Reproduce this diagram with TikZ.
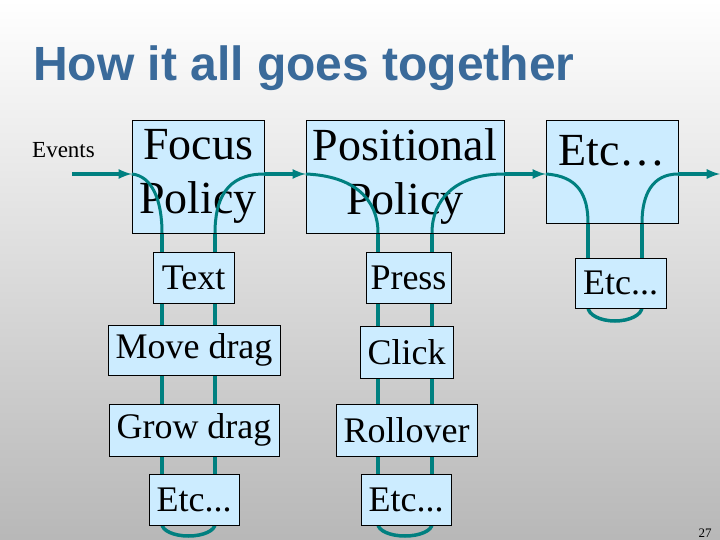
\documentclass[tikz,border=0pt]{standalone}
\usepackage{fontspec}
\setmainfont{Liberation Serif}
\newfontfamily\titlefont{Liberation Sans}
\usetikzlibrary{calc}
\definecolor{wireteal}{RGB}{0,128,128}
\definecolor{boxfill}{RGB}{204,236,255}
\definecolor{titleblue}{RGB}{58,106,154}
\tikzset{
	policy/.style={draw, rectangle, fill=boxfill, inner sep=0pt, align=center, font=\fontsize{46}{54}\selectfont},
	handler/.style={draw, rectangle, fill=boxfill, inner sep=0pt, font=\fontsize{36}{42}\selectfont},
	wire/.style={draw=wireteal, line width=3.5pt},
	flow/.style={draw=wireteal, line width=3.5pt, -latex},
}
\begin{document}
\begin{tikzpicture}[x=1pt, y=-1pt]
	\shade[left color=white, right color=black!28, shading angle=0] (0,0) rectangle (720,540);
	\useasboundingbox (0,0) rectangle (720,540);
	\node[anchor=base west, inner sep=0pt, text=titleblue, font=\titlefont\bfseries\fontsize{48}{56}\selectfont] (title) at (33,81) {How it all goes together};
	\node[anchor=base west, inner sep=0pt, font=\fontsize{23}{26}\selectfont] (events) at (32,158) {Events};
	
	% vertical wires, behind the boxes
	\foreach \x/\ya/\yb in {162/233/525, 215/233/525, 378/233/525, 432/233/525, 588/223/308, 642/223/308}
		\draw[wire] (\x,\ya) -- (\x,\yb);
	\draw[wire] (162,524) arc[start angle=180, end angle=0, x radius=26.5, y radius=12];
	\draw[wire] (378,524) arc[start angle=180, end angle=0, x radius=27, y radius=12];
	\draw[wire] (588,307) arc[start angle=180, end angle=0, x radius=27, y radius=14];
	
	% policies
	\node (focus) [policy, minimum width=132, minimum height=113] at (198,176.5) {Focus\\Policy};
	\node (posit) [policy, minimum width=198, minimum height=113] at (405,176.5) {Positional\\Policy};
	\node (etc) [policy, minimum width=132, minimum height=103] at (612,171.5) {};
	\node[font=\fontsize{46}{54}\selectfont, anchor=base] (etctext) at (612,166) {Etc\ldots};
	
	% handlers
	\node (text) [handler, minimum width=81, minimum height=51] at (193.5,277.5) {Text};
	\node (move) [handler, minimum width=172, minimum height=50] at (194,350) {Move drag};
	\node (grow) [handler, minimum width=170, minimum height=52] at (194,430) {Grow drag};
	\node (etca) [handler, minimum width=90, minimum height=51] at (194,499.5) {Etc...};
	\node (press) [handler, minimum width=85, minimum height=51] at (408.5,277.5) {Press};
	\node (click) [handler, minimum width=93, minimum height=52] at (406.5,352) {Click};
	\node (roll) [handler, minimum width=141, minimum height=52] at (406.5,430) {Rollover};
	\node (etcb) [handler, minimum width=90, minimum height=51] at (406,499.5) {Etc...};
	\node (etcc) [handler, minimum width=91, minimum height=50] at (620.5,283) {Etc...};
	
	\coordinate (in) at (72,174);
	\coordinate (out) at (720,174);
	
	% event flow
	\begin{scope}
		\draw[flow] (in) -- (focus.west |- in);
		\draw[flow] (focus.east |- in) -- (posit.west |- in);
		\draw[flow] (posit.east |- in) -- (etc.west |- in);
		\draw[flow] (etc.east |- in) -- (out);
		\draw[wire, line width=3pt] (focus.west |- in) .. controls (152,176) and (162,200) .. (162,233);
		\draw[wire, line width=3pt] (215,233) .. controls (215,200) and (226,174) .. (focus.east |- in);
		\draw[wire, line width=3pt] (posit.west |- in) .. controls (355,176) and (378,200) .. (378,233);
		\draw[wire, line width=3pt] (432,233) .. controls (432,200) and (455,174) .. (posit.east |- in);
		\draw[wire, line width=3pt] (etc.west |- in) .. controls (578,176) and (588,195) .. (588,223);
		\draw[wire, line width=3pt] (642,223) .. controls (642,195) and (652,174) .. (etc.east |- in);
	\end{scope}
	
	\node[font=\fontsize{13}{15}\selectfont] (page) at (705,533) {27};
\end{tikzpicture}
\end{document}
